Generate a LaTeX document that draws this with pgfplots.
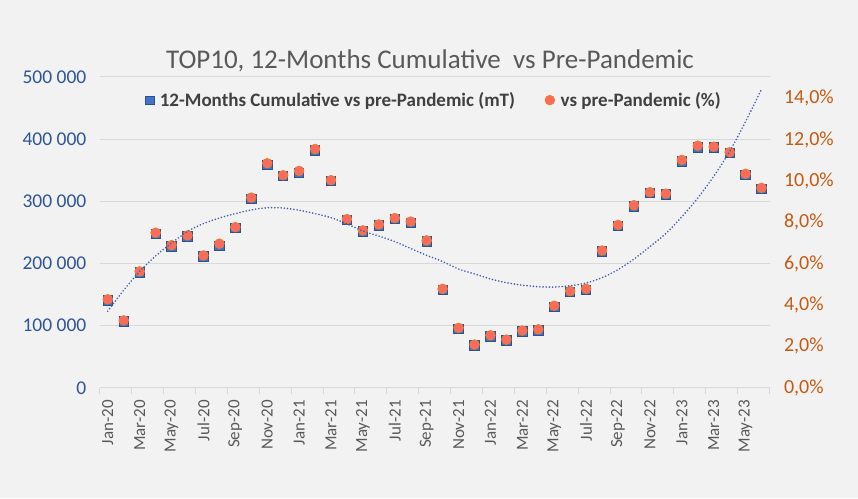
\documentclass[border=0pt]{standalone}
\usepackage{pgfplots}
\pgfplotsset{compat=1.18}
\usepackage{fontspec}
\setmainfont{Carlito}
\definecolor{bg}{HTML}{F2F2F2}
\definecolor{gridc}{HTML}{D9D9D9}
\definecolor{leftc}{HTML}{2F5597}
\definecolor{rightc}{HTML}{C55A11}
\definecolor{titlec}{HTML}{595959}
\definecolor{legc}{HTML}{404040}
\definecolor{sqfill}{HTML}{4472C4}
\definecolor{sqdraw}{HTML}{2F528F}
\definecolor{cifill}{HTML}{FA6B5E}
\definecolor{cidraw}{HTML}{ED7D31}
\definecolor{trendc}{HTML}{3F5FAA}

\pgfplotstableread{
i val
0 140600
1 107000
2 185600
3 247700
4 227300
5 243400
6 211300
7 228400
8 256800
9 303300
10 358400
11 340300
12 345100
13 381400
14 332300
15 269700
16 251400
17 261000
18 271200
19 264800
20 235300
21 157800
22 94700
23 67900
24 82800
25 75900
26 90400
27 92500
28 130500
29 154100
30 157800
31 219300
32 260500
33 291500
34 313000
35 310800
36 363700
37 386800
38 386200
39 377200
40 342400
41 319900
}\cumdata

\pgfplotstableread{
i pct
0 4.28
1 3.26
2 5.63
3 7.50
4 6.90
5 7.37
6 6.40
7 6.97
8 7.77
9 9.20
10 10.86
11 10.28
12 10.49
13 11.55
14 10.04
15 8.16
16 7.61
17 7.90
18 8.21
19 8.04
20 7.13
21 4.79
22 2.90
23 2.09
24 2.54
25 2.33
26 2.77
27 2.83
28 3.97
29 4.68
30 4.79
31 6.64
32 7.88
33 8.83
34 9.46
35 9.39
36 11.02
37 11.71
38 11.66
39 11.39
40 10.35
41 9.67
}\pctdata

\pgfplotstableread{
i trend
0 123000
1 157000
2 187000
3 212000
4 232700
5 251400
6 264000
7 273000
8 280000
9 286000
10 289500
11 289000
12 285500
13 280000
14 273500
15 263500
16 252000
17 244000
18 235000
19 224000
20 213000
21 203000
22 191000
23 183000
24 175000
25 169000
26 165000
27 162500
28 162000
29 164000
30 168500
31 177000
32 190000
33 207000
34 227000
35 248000
36 275000
37 305000
38 340000
39 380000
40 428000
41 480000
}\trenddata

\pgfplotsset{
  common/.style={
    at={(99.8pt,110.2pt)}, anchor=south west,
    scale only axis, width=669.7pt, height=311pt,
    xmin=-0.5, xmax=41.5,
    clip=false,
  },
}

\begin{document}
\begin{tikzpicture}[x=1pt,y=1pt]
\fill[bg] (0,0) rectangle (858,498);

\begin{axis}[common,
  ymin=0, ymax=500000,
  axis x line*=bottom, axis y line*=left,
  y axis line style={draw=none},
  x axis line style={draw=gridc, line width=1pt},
  ytick={0,100000,200000,300000,400000,500000},
  yticklabels={0,100 000,200 000,300 000,400 000,500 000},
  ymajorgrids, grid style={gridc, line width=1pt},
  major tick length=0pt,
  xtick={0,2,...,40},
  xticklabels={Jan-20,Mar-20,May-20,Jul-20,Sep-20,Nov-20,Jan-21,Mar-21,May-21,Jul-21,Sep-21,Nov-21,Jan-22,Mar-22,May-22,Jul-22,Sep-22,Nov-22,Jan-23,Mar-23,May-23},
  minor xtick={-0.5,1.5,...,41.5},
  minor tick length=6pt, tick align=outside,
  minor tick style={draw=gridc, line width=1pt},
  xticklabel style={rotate=90, anchor=east, font=\fontsize{17}{17}\selectfont, text=titlec},
  xticklabel shift=9pt,
  yticklabel style={font=\fontsize{19.5}{19.5}\selectfont, text=leftc, xshift=-10pt},
  scaled y ticks=false,
]
\addplot[only marks, mark=square*, mark size=4.7pt, mark options={fill=sqfill, draw=sqdraw, line width=0.8pt}] table[x=i, y=val] {\cumdata};
\end{axis}

\begin{axis}[common,
  ymin=0, ymax=15.04,
  axis y line*=right, hide x axis,
  y axis line style={draw=none},
  major tick length=0pt,
  ytick={0,2,4,6,8,10,12,14},
  yticklabels={{0,0\%},{2,0\%},{4,0\%},{6,0\%},{8,0\%},{10,0\%},{12,0\%},{14,0\%}},
  yticklabel style={font=\fontsize{20}{20}\selectfont, text=rightc, xshift=11pt},
  legend style={at={(0.499,0.925)}, anchor=center, draw=none, fill=none,
    legend columns=2, font=\bfseries\fontsize{19}{20}\selectfont, text=legc,
    /tikz/every odd column/.append style={column sep=4pt},
    /tikz/every even column/.append style={column sep=28pt}},
  legend cell align=left,
]
\addlegendimage{only marks, mark=square*, mark size=4.3pt, mark options={fill=sqfill, draw=sqdraw, line width=0.6pt}}
\addlegendentry{12-Months Cumulative vs pre-Pandemic (mT)}
\addplot[only marks, mark=*, mark size=4.8pt, mark options={fill=cifill, draw=cidraw, line width=0.8pt}] table[x=i, y=pct] {\pctdata};
\addlegendentry{vs pre-Pandemic (\%)}
\end{axis}

\begin{axis}[common, ymin=0, ymax=500000, hide axis]
\addplot[trendc, smooth, line width=1.8pt, line cap=round, dash pattern=on 0pt off 3.2pt] table[x=i, y=trend] {\trenddata};
\end{axis}

\node[font=\fontsize{27}{30}\selectfont, text=titlec] at (430,437) {TOP10, 12-Months Cumulative\ \ vs Pre-Pandemic};

\pgfresetboundingbox
\path[use as bounding box] (0,0) rectangle (858,498);
\end{tikzpicture}
\end{document}
